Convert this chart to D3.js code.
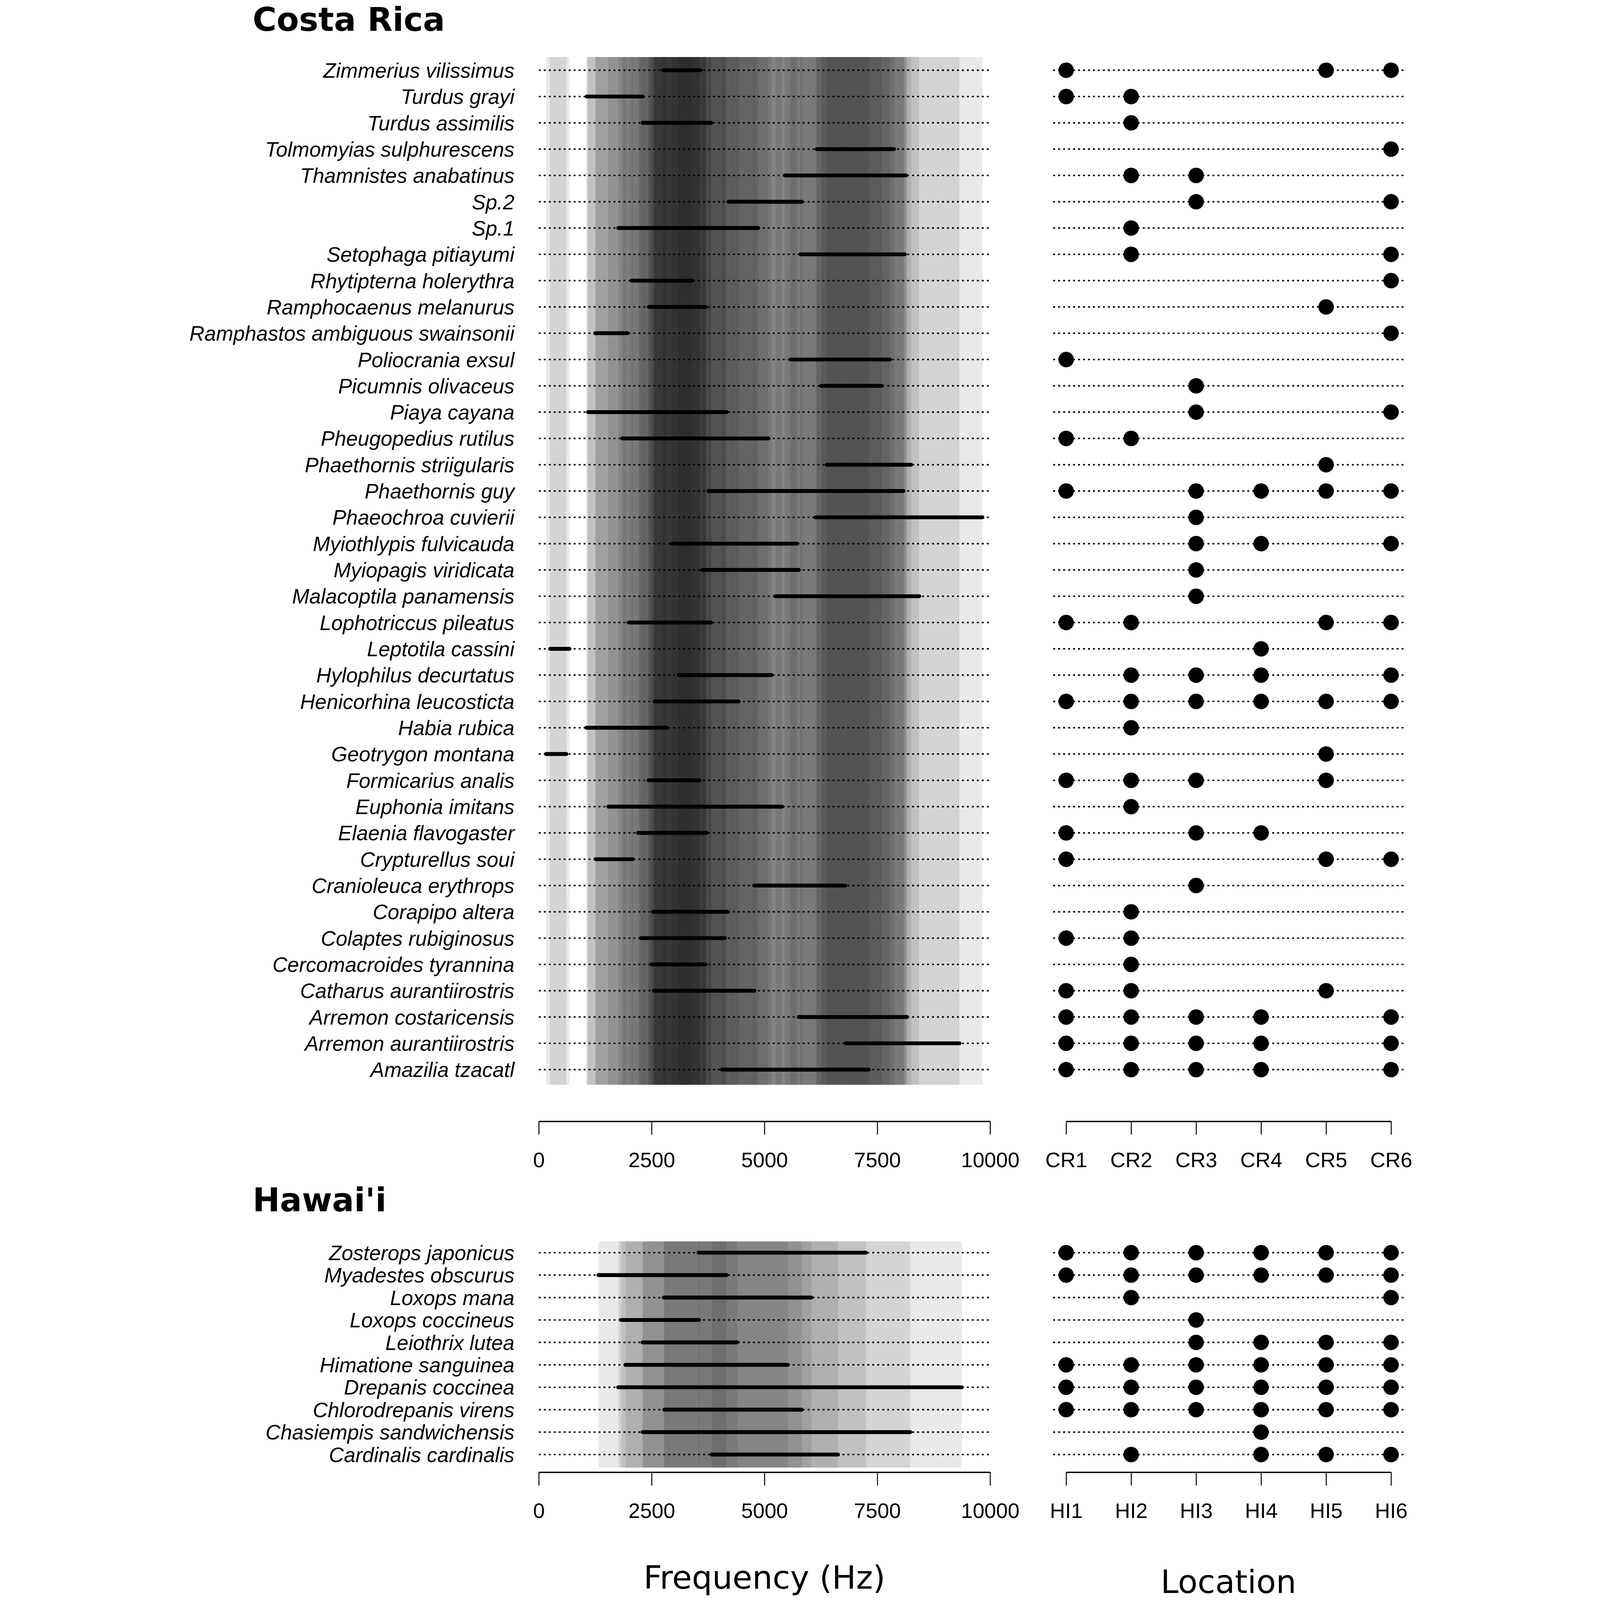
<!DOCTYPE html>
<html>
<head>
<meta charset="utf-8">
<script src="https://cdn.jsdelivr.net/npm/d3@7/dist/d3.min.js"></script>
<style>
  html, body { margin: 0; padding: 0; background: #fff; overflow: hidden; }
  svg { display: block; }
</style>
</head>
<body>
<div id="chart"></div>
<script>
// Costa Rica species, frequency range (Hz) and sites where recorded
const crSpecies = ["Zimmerius vilissimus", "Turdus grayi", "Turdus assimilis", "Tolmomyias sulphurescens",
  "Thamnistes anabatinus", "Sp.2", "Sp.1", "Setophaga pitiayumi", "Rhytipterna holerythra",
  "Ramphocaenus melanurus", "Ramphastos ambiguous swainsonii", "Poliocrania exsul", "Picumnis olivaceus",
  "Piaya cayana", "Pheugopedius rutilus", "Phaethornis striigularis", "Phaethornis guy", "Phaeochroa cuvierii",
  "Myiothlypis fulvicauda", "Myiopagis viridicata", "Malacoptila panamensis", "Lophotriccus pileatus",
  "Leptotila cassini", "Hylophilus decurtatus", "Henicorhina leucosticta", "Habia rubica", "Geotrygon montana",
  "Formicarius analis", "Euphonia imitans", "Elaenia flavogaster", "Crypturellus soui", "Cranioleuca erythrops",
  "Corapipo altera", "Colaptes rubiginosus", "Cercomacroides tyrannina", "Catharus aurantiirostris",
  "Arremon costaricensis", "Arremon aurantiirostris", "Amazilia tzacatl"];
const crMin = [2750, 1060, 2300, 6160, 5450, 4200, 1760, 5800, 2060, 2440, 1250, 5580, 6260, 1090, 1850, 6380,
  3760, 6130, 2950, 3620, 5240, 1990, 250, 3100, 2570, 1050, 160, 2430, 1540, 2200, 1260, 4770, 2530, 2260,
  2500, 2550, 5760, 6800, 4060];
const crMax = [3580, 2300, 3820, 7870, 8140, 5830, 4860, 8110, 3400, 3700, 1960, 7780, 7600, 4160, 5090, 8250,
  8080, 9830, 5720, 5760, 8430, 3820, 680, 5160, 4430, 2830, 610, 3560, 5390, 3720, 2080, 6790, 4190, 4120,
  3690, 4780, 8160, 9320, 7310];
const crSites = [[1, 5, 6], [1, 2], [2], [6], [2, 3], [3, 6], [2], [2, 6], [6], [5], [6], [1], [3], [3, 6], [1, 2],
  [5], [1, 3, 4, 5, 6], [3], [3, 4, 6], [3], [3], [1, 2, 5, 6], [4], [2, 3, 4, 6], [1, 2, 3, 4, 5, 6], [2], [5],
  [1, 2, 3, 5], [2], [1, 3, 4], [1, 5, 6], [3], [2], [1, 2], [2], [1, 2, 5], [1, 2, 3, 4, 6], [1, 2, 3, 4, 6],
  [1, 2, 3, 4, 6]];
const crSiteLabels = ["CR1", "CR2", "CR3", "CR4", "CR5", "CR6"];

// Hawai'i
const hiSpecies = ["Zosterops japonicus", "Myadestes obscurus", "Loxops mana", "Loxops coccineus",
  "Leiothrix lutea", "Himatione sanguinea", "Drepanis coccinea", "Chlorodrepanis virens",
  "Chasiempis sandwichensis", "Cardinalis cardinalis"];
const hiMin = [3540, 1320, 2770, 1820, 2300, 1920, 1760, 2780, 2300, 3830];
const hiMax = [7250, 4160, 6040, 3550, 4390, 5520, 9370, 5830, 8230, 6630];
const hiSites = [[1, 2, 3, 4, 5, 6], [1, 2, 3, 4, 5, 6], [2, 6], [3], [3, 4, 5, 6], [1, 2, 3, 4, 5, 6],
  [1, 2, 3, 4, 5, 6], [1, 2, 3, 4, 5, 6], [4], [2, 4, 5, 6]];
const hiSiteLabels = ["HI1", "HI2", "HI3", "HI4", "HI5", "HI6"];

const freqTicks = [0, 2500, 5000, 7500, 10000];

const width = 4445, height = 5786;
const labelFont = "'Liberation Sans', Arial, sans-serif";
const titleFont = "'DejaVu Sans', sans-serif";

// viewBox keeps the whole figure visible whatever the window size
const svg = d3.select("#chart").append("svg")
  .attr("viewBox", "0 0 " + width + " " + height)
  .attr("preserveAspectRatio", "xMidYMin meet")
  .style("width", "100vw")
  .style("height", "100vh")
  .style("background", "#fff");

// shared x scale for frequency
const x = d3.scaleLinear().domain([0, 10000]).range([1278, 2910]);

function drawRegion(g, title, titleY, species, mins, maxs, sites, siteLabels, rowTop, rowBottom, axisY, padBottom) {
  const y = d3.scalePoint().domain(species).range([rowTop, rowBottom]);
  const step = y.step();
  const loc = d3.scalePoint().domain(siteLabels).range([3185, 4360]);
  const locStep = loc.step();

  // region title
  g.append("text")
    .attr("x", 243)
    .attr("y", titleY)
    .style("font-family", titleFont)
    .style("font-weight", "bold")
    .style("font-size", "118px")
    .text(title);

  // translucent frequency band for every species -> stacked grey background
  g.selectAll("rect.band")
    .data(species)
    .enter().append("rect")
    .attr("class", "band")
    .attr("x", (d, i) => x(mins[i]))
    .attr("width", (d, i) => x(maxs[i]) - x(mins[i]))
    .attr("y", rowTop - step * 0.5)
    .attr("height", rowBottom - rowTop + step * (0.5 + padBottom))
    .attr("fill", "#000")
    .attr("fill-opacity", 0.088)
    .attr("shape-rendering", "crispEdges");

  // dotted guide lines in frequency panel
  g.selectAll("line.fguide")
    .data(species)
    .enter().append("line")
    .attr("x1", x(0))
    .attr("x2", x(10000))
    .attr("y1", d => y(d))
    .attr("y2", d => y(d))
    .style("stroke", "#000")
    .style("stroke-width", 5.5)
    .style("stroke-dasharray", "7 11");

  // frequency ranges
  g.selectAll("line.range")
    .data(species)
    .enter().append("line")
    .attr("x1", (d, i) => x(mins[i]))
    .attr("x2", (d, i) => x(maxs[i]))
    .attr("y1", d => y(d))
    .attr("y2", d => y(d))
    .style("stroke", "#000")
    .style("stroke-width", 14)
    .style("stroke-linecap", "round");

  // species names
  g.selectAll("text.sp")
    .data(species)
    .enter().append("text")
    .attr("x", 1190)
    .attr("y", d => y(d))
    .attr("dy", "0.36em")
    .attr("text-anchor", "end")
    .style("font-family", labelFont)
    .style("font-style", "italic")
    .style("font-size", "75px")
    .text(d => d);

  // dotted guide lines in location panel
  g.selectAll("line.lguide")
    .data(species)
    .enter().append("line")
    .attr("x1", loc(siteLabels[0]) - locStep * 0.2)
    .attr("x2", loc(siteLabels[siteLabels.length - 1]) + locStep * 0.2)
    .attr("y1", d => y(d))
    .attr("y2", d => y(d))
    .style("stroke", "#000")
    .style("stroke-width", 5.5)
    .style("stroke-dasharray", "7 11");

  // presence dots
  const pts = [];
  species.forEach((s, i) => sites[i].forEach(k => pts.push({ s: s, site: siteLabels[k - 1] })));
  g.selectAll("circle.pres")
    .data(pts)
    .enter().append("circle")
    .attr("cx", d => loc(d.site))
    .attr("cy", d => y(d.s))
    .attr("r", 28)
    .attr("fill", "#000");

  // axes
  const fAxis = g.append("g")
    .attr("transform", "translate(0," + axisY + ")")
    .call(d3.axisBottom(x).tickValues(freqTicks).tickFormat(d3.format("d"))
      .tickSize(48).tickSizeOuter(0).tickPadding(64));
  const lAxis = g.append("g")
    .attr("transform", "translate(0," + axisY + ")")
    .call(d3.axisBottom(loc).tickSize(48).tickSizeOuter(0).tickPadding(64));

  [fAxis, lAxis].forEach(a => {
    a.select(".domain").style("stroke", "#000").style("stroke-width", 5);
    a.selectAll(".tick line").style("stroke", "#000").style("stroke-width", 3.5);
    a.selectAll(".tick text")
      .style("font-family", labelFont)
      .style("font-size", "76px")
      .style("fill", "#000");
  });
}

drawRegion(svg.append("g"), "Costa Rica", 112, crSpecies, crMin, crMax, crSites, crSiteLabels,
  254, 3868, 4055, 0.58);
drawRegion(svg.append("g"), "Hawai'i", 4380, hiSpecies, hiMin, hiMax, hiSites, hiSiteLabels,
  4530, 5260, 5324, 0.58);

// bottom axis titles
svg.append("text")
  .attr("x", (x(0) + x(10000)) / 2)
  .attr("y", 5745)
  .attr("text-anchor", "middle")
  .style("font-family", titleFont)
  .style("font-size", "116px")
  .text("Frequency (Hz)");

svg.append("text")
  .attr("x", 3772)
  .attr("y", 5760)
  .attr("text-anchor", "middle")
  .style("font-family", titleFont)
  .style("font-size", "116px")
  .text("Location");
</script>
</body>
</html>
